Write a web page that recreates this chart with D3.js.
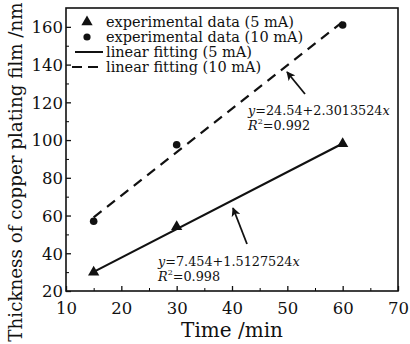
<!DOCTYPE html>
<html>
<head>
<meta charset="utf-8">
<script src="https://cdn.jsdelivr.net/npm/d3@7"></script>
<style>
  body { margin: 0; background: #fff; }
  text { font-family: "DejaVu Serif", serif; fill: #111; }
</style>
</head>
<body>
<div id="chart"></div>
<script>
// data
var timeMin = [15, 30, 60];
var thick5mA = [30, 54, 98];
var thick10mA = [57, 97.5, 161];
var fit5 = { a: 7.454, b: 1.5127524, r2: "0.998" };
var fit10 = { a: 24.54, b: 2.3013524, r2: "0.992" };
var xTicks = [10, 20, 30, 40, 50, 60, 70];
var yTicks = [20, 40, 60, 80, 100, 120, 140, 160];
var legendLabels = ["experimental data (5 mA)", "experimental data (10 mA)",
                    "linear fitting (5 mA)", "linear fitting (10 mA)"];

var margin = { top: 8, right: 12, bottom: 53, left: 66 };
var W = 410, H = 344;
var width = W - margin.left - margin.right;
var height = H - margin.top - margin.bottom;

var svg = d3.select("#chart").append("svg")
    .attr("width", W)
    .attr("height", H);

var g = svg.append("g")
    .attr("transform", "translate(" + margin.left + "," + margin.top + ")");

var x = d3.scaleLinear().domain([10, 70]).range([0, width]);
var y = d3.scaleLinear().domain([20, 170]).range([height, 0]);

// minor ticks first
g.append("g")
    .attr("transform", "translate(0," + height + ")")
    .call(d3.axisBottom(x).tickValues(d3.range(15, 70, 10)).tickSize(-3).tickFormat(""))
    .call(function(s){ s.select(".domain").remove(); });
g.append("g")
    .call(d3.axisLeft(y).tickValues(d3.range(30, 170, 20)).tickSize(-3).tickFormat(""))
    .call(function(s){ s.select(".domain").remove(); });

// major axes
var xAxis = g.append("g")
    .attr("transform", "translate(0," + height + ")")
    .call(d3.axisBottom(x).tickValues(xTicks).tickSize(-5).tickPadding(11));
var yAxis = g.append("g")
    .call(d3.axisLeft(y).tickValues(yTicks).tickSize(-5).tickPadding(3));

[xAxis, yAxis].forEach(function(a){
    a.select(".domain").remove();
    a.selectAll("text").attr("font-size", 16.5).attr("font-family", "DejaVu Serif").attr("fill", "#111");
    a.selectAll("line").attr("stroke", "#111").attr("stroke-width", 1.3);
});
yAxis.selectAll("text").attr("dy", "0.35em");

// frame
g.append("rect")
    .attr("width", width).attr("height", height)
    .attr("fill", "none").attr("stroke", "#111").attr("stroke-width", 1.6);

// axis titles
svg.append("text")
    .attr("x", margin.left + x(40)).attr("y", 337)
    .attr("text-anchor", "middle").attr("font-size", 20)
    .text("Time /min");
svg.append("text")
    .attr("transform", "translate(22," + (H / 2) + ") rotate(-90)")
    .attr("text-anchor", "middle").attr("font-size", 18.3)
    .text("Thickness of copper plating film /nm");

// fitted lines
function fitLine(f) {
    return [15, 60].map(function(t){ return [t, f.a + f.b * t]; });
}
var line = d3.line().x(function(d){ return x(d[0]); }).y(function(d){ return y(d[1]); });

g.append("path").datum(fitLine(fit5))
    .attr("d", line).attr("fill", "none").attr("stroke", "#111").attr("stroke-width", 2.2);
g.append("path").datum(fitLine(fit10))
    .attr("d", line).attr("fill", "none").attr("stroke", "#111").attr("stroke-width", 2.2)
    .attr("stroke-dasharray", "10,7");

// markers
var tri = d3.symbol().type(d3.symbolTriangle).size(55);
g.selectAll(".tri").data(timeMin).enter().append("path")
    .attr("class", "tri")
    .attr("d", tri)
    .attr("transform", function(d, i){ return "translate(" + x(d) + "," + y(thick5mA[i]) + ")"; })
    .attr("fill", "#111");
g.selectAll(".dot").data(timeMin).enter().append("circle")
    .attr("class", "dot")
    .attr("cx", function(d){ return x(d); })
    .attr("cy", function(d, i){ return y(thick10mA[i]); })
    .attr("r", 3.8)
    .attr("fill", "#111");

// legend
var lg = svg.append("g");
var rows = [22, 37, 52, 67];
lg.append("path").attr("d", tri).attr("transform", "translate(87," + rows[0] + ")").attr("fill", "#111");
lg.append("circle").attr("cx", 87).attr("cy", rows[1]).attr("r", 3.6).attr("fill", "#111");
lg.append("line").attr("x1", 75).attr("x2", 103).attr("y1", rows[2]).attr("y2", rows[2])
    .attr("stroke", "#111").attr("stroke-width", 2);
lg.append("line").attr("x1", 72).attr("x2", 103).attr("y1", rows[3]).attr("y2", rows[3])
    .attr("stroke", "#111").attr("stroke-width", 2).attr("stroke-dasharray", "10,6");
lg.selectAll(".lt").data(legendLabels).enter().append("text")
    .attr("class", "lt")
    .attr("x", 106)
    .attr("y", function(d, i){ return rows[i] + 5; })
    .attr("font-size", 14.5)
    .text(function(d){ return d; });

// annotations with arrows
svg.append("defs").append("marker")
    .attr("id", "head").attr("viewBox", "0 0 10 10")
    .attr("refX", 9).attr("refY", 5)
    .attr("markerWidth", 5).attr("markerHeight", 5)
    .attr("orient", "auto")
    .append("path").attr("d", "M0,0 L10,5 L0,10 L2.5,5 Z").attr("fill", "#111");

function annotate(f, tx, ty, ax1, ay1, ax2, ay2) {
    svg.append("line")
        .attr("x1", ax1).attr("y1", ay1).attr("x2", ax2).attr("y2", ay2)
        .attr("stroke", "#111").attr("stroke-width", 1.8)
        .attr("marker-end", "url(#head)");
    var t = svg.append("text").attr("x", tx).attr("y", ty).attr("font-size", 12.8);
    t.append("tspan").attr("font-style", "italic").text("y");
    t.append("tspan").text("=" + f.a + "+" + f.b);
    t.append("tspan").attr("font-style", "italic").text("x");
    var r = svg.append("text").attr("x", tx).attr("y", ty + 15).attr("font-size", 12.8);
    r.append("tspan").attr("font-style", "italic").text("R");
    r.append("tspan").attr("font-size", 8).attr("dy", -6).text("2");
    r.append("tspan").attr("dy", 6).text("=" + f.r2);
}
annotate(fit10, 248, 115, 305, 94, 287, 72);
annotate(fit5, 158, 266, 247, 244, 233, 208);
</script>
</body>
</html>
